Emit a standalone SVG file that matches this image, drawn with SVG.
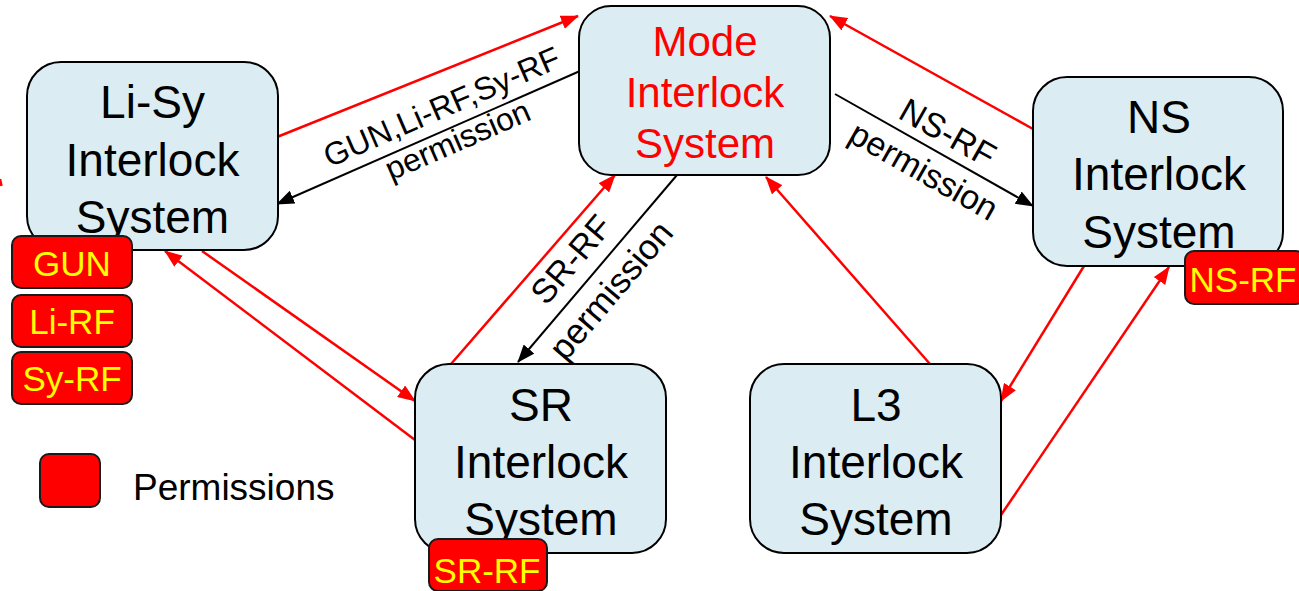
<svg xmlns="http://www.w3.org/2000/svg" width="1299" height="591" viewBox="0 0 1299 591">
  <style>
    .node { fill: #DBEDF3; stroke: #000; stroke-width: 2; }
    .ntext { font-family: "Liberation Sans", Arial, sans-serif; font-size: 46px; fill: #000; text-anchor: middle; }
    .perm { fill: #FF0000; stroke: #1a1a1a; stroke-width: 2; }
    .ptext { font-family: "Liberation Sans", Arial, sans-serif; font-size: 35px; fill: #FFFF00; text-anchor: middle; }
    .red { fill: none; stroke: #FF0000; stroke-width: 2.5; marker-end: url(#arrRed); }
    .blk { fill: none; stroke: #000; stroke-width: 2; marker-end: url(#arrBlk); }
    .lbl { font-family: "Liberation Sans", Arial, sans-serif; font-size: 32px; fill: #000; text-anchor: middle; }
  </style>
  <defs>
    <marker id="arrRed" markerUnits="userSpaceOnUse" markerWidth="18" markerHeight="14" refX="17" refY="7" orient="auto">
      <path d="M0,0 L18,7 L0,14 Z" fill="#FF0000"/>
    </marker>
    <marker id="arrBlk" markerUnits="userSpaceOnUse" markerWidth="18" markerHeight="14" refX="17" refY="7" orient="auto">
      <path d="M0,0 L18,7 L0,14 Z" fill="#000"/>
    </marker>
  </defs>

  <rect width="1299" height="591" fill="#fff"/>

  <!-- connectors -->
  <g id="connectors">
    <path class="red" d="M277,137 L578,16"/>
    <path class="blk" d="M580,71 L277,204"/>
    <path class="blk" d="M835,94 L1033,206"/>
    <path class="red" d="M1033,129 L830,16"/>
    <path class="red" d="M451,364 L615,175"/>
    <path class="blk" d="M677,175 L518,362"/>
    <path class="red" d="M930,364 L766,177"/>
    <path class="red" d="M1084,266 L1001,401"/>
    <path class="red" d="M1001,515 L1169,267"/>
    <path class="red" d="M202,251 L415,401"/>
    <path class="red" d="M415,440 L165,251"/>
    <path d="M0,179 L1.5,186" stroke="#FF0000" stroke-width="2.5" fill="none"/>

    <!-- connector labels, each placed at its baseline centre -->
    <g id="lbl-lisy">
      <text class="lbl" transform="translate(446,117) rotate(-23.5)">GUN,Li-RF,Sy-RF</text>
      <text class="lbl" transform="translate(462,150) rotate(-23.5)">permission</text>
    </g>
    <g id="lbl-ns">
      <text class="lbl" transform="translate(942,143) rotate(29.5)" style="font-size:34px">NS-RF</text>
      <text class="lbl" transform="translate(918,181) rotate(29.5)" style="font-size:34px">permission</text>
    </g>
    <g id="lbl-sr">
      <text class="lbl" transform="translate(580,267) rotate(-49.6)" style="font-size:34px">SR-RF</text>
      <text class="lbl" transform="translate(620,298) rotate(-49.6)" style="font-size:35px">permission</text>
    </g>
  </g>

  <!-- nodes -->
  <g id="node-lisy">
    <rect class="node" x="27" y="62" width="251" height="188" rx="34"/>
    <text class="ntext" x="152.5" y="118">Li-Sy</text>
    <text class="ntext" x="152.5" y="176">Interlock</text>
    <text class="ntext" x="152.5" y="233">System</text>
  </g>
  <g id="node-mode">
    <rect class="node" x="579" y="6" width="251" height="169" rx="32"/>
    <text class="ntext" x="705" y="56" style="font-size:42px;fill:#FF0000">Mode</text>
    <text class="ntext" x="705" y="107" style="font-size:42px;fill:#FF0000">Interlock</text>
    <text class="ntext" x="705" y="158" style="font-size:42px;fill:#FF0000">System</text>
  </g>
  <g id="node-ns">
    <rect class="node" x="1033" y="77" width="250" height="189" rx="34"/>
    <text class="ntext" x="1159" y="133">NS</text>
    <text class="ntext" x="1159" y="190">Interlock</text>
    <text class="ntext" x="1159" y="248">System</text>
  </g>
  <g id="node-sr">
    <rect class="node" x="415" y="364" width="251" height="189" rx="34"/>
    <text class="ntext" x="541" y="421">SR</text>
    <text class="ntext" x="541" y="478">Interlock</text>
    <text class="ntext" x="541" y="535">System</text>
  </g>
  <g id="node-l3">
    <rect class="node" x="750" y="364" width="251" height="189" rx="34"/>
    <text class="ntext" x="876" y="421">L3</text>
    <text class="ntext" x="876" y="478">Interlock</text>
    <text class="ntext" x="876" y="535">System</text>
  </g>

  <!-- permission tags -->
  <g id="perm-gun">
    <rect class="perm" x="12" y="236" width="120" height="52" rx="9"/>
    <text class="ptext" x="72" y="276">GUN</text>
  </g>
  <g id="perm-lirf">
    <rect class="perm" x="12" y="295" width="120" height="52" rx="9"/>
    <text class="ptext" x="72" y="334">Li-RF</text>
  </g>
  <g id="perm-syrf">
    <rect class="perm" x="12" y="352" width="120" height="52" rx="9"/>
    <text class="ptext" x="72" y="391">Sy-RF</text>
  </g>
  <g id="perm-srrf">
    <rect class="perm" x="429" y="539" width="118" height="52" rx="9"/>
    <text class="ptext" x="487" y="583">SR-RF</text>
  </g>
  <g id="perm-nsrf">
    <rect class="perm" x="1185" y="251" width="120" height="53" rx="9"/>
    <text class="ptext" x="1243" y="292">NS-RF</text>
  </g>

  <!-- legend -->
  <g id="legend">
    <rect class="perm" x="40" y="454" width="60" height="53" rx="9"/>
    <text x="133" y="500" style="font-family:'Liberation Sans',Arial,sans-serif;font-size:37px;fill:#000">Permissions</text>
  </g>
</svg>
